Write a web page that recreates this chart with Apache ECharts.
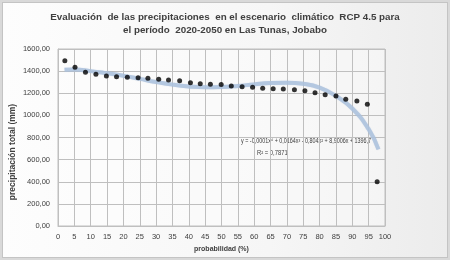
<!DOCTYPE html>
<html><head><meta charset="utf-8">
<script src="https://cdn.jsdelivr.net/npm/echarts@6/dist/echarts.min.js"></script>
<style>
html,body{margin:0;padding:0;width:450px;height:260px;background:#d9d9d9;overflow:hidden}
#frame{position:absolute;left:2px;top:2px;width:444px;height:254px;border:1px solid #c4c4c4;background:linear-gradient(90deg,#fdfdfd 0%,#f6f6f6 60%,#ececec 100%)}
#c{position:absolute;left:-3px;top:-3px;width:450px;height:260px}
</style></head><body>
<div id="frame"><div id="c"></div></div>
<script>
const probX = [2.1, 5.2, 8.4, 11.6, 14.8, 17.9, 21.2, 24.5, 27.5, 30.8, 33.8, 37.2, 40.5, 43.5, 46.6, 49.9, 53.0, 56.3, 59.5, 62.6, 65.8, 68.9, 72.3, 75.5, 78.6, 81.7, 85.0, 88.0, 91.4, 94.6, 97.6];
const precip = [1494, 1435, 1390, 1372, 1356, 1350, 1344, 1341, 1335, 1326, 1320, 1314, 1296, 1287, 1281, 1278, 1266, 1259, 1254, 1245, 1241, 1239, 1232, 1223, 1205, 1187, 1175, 1146, 1130, 1100, 400];
const trendX = [2, 5, 10, 15, 20, 25, 30, 35, 40, 45, 50, 55, 60, 65, 70, 75, 80, 85, 90, 95, 98];
const trendY = [1412, 1415, 1400, 1380, 1358, 1330, 1302, 1278, 1262, 1255, 1257, 1266, 1280, 1292, 1296, 1285, 1250, 1175, 1062, 875, 693];
const xTicks = [0, 5, 10, 15, 20, 25, 30, 35, 40, 45, 50, 55, 60, 65, 70, 75, 80, 85, 90, 95, 100];
const yTicks = [0, 200, 400, 600, 800, 1000, 1200, 1400, 1600];

const chart = echarts.init(document.getElementById('c'), null, {renderer:'canvas'});
const F = 'Liberation Sans, Arial, sans-serif';
chart.setOption({
  animation:false,
  backgroundColor:'transparent',
  title:{
    text:'Evaluación  de las precipitaciones  en el escenario  climático  RCP 4.5 para\nel período  2020-2050 en Las Tunas, Jobabo',
    left:'center', top:6,
    textStyle:{fontFamily:F,fontSize:9.8,fontWeight:'bold',color:'#404040',lineHeight:13}
  },
  grid:{left:58,right:65,top:49,bottom:34,show:true,borderColor:'#bfbfbf',borderWidth:1,backgroundColor:'rgba(255,255,255,0.35)'},
  xAxis:{
    type:'value',min:0,max:100,interval:5,
    axisLine:{show:true,lineStyle:{color:'#bfbfbf'}},
    axisTick:{show:false},
    splitLine:{show:true,lineStyle:{color:'#bfbfbf',width:1}},
    axisLabel:{fontFamily:F,fontSize:7.5,color:'#404040',margin:7,
      formatter:v=>xTicks.includes(v)?String(v):''},
    name:'probabilidad (%)',nameLocation:'middle',nameGap:19,
    nameTextStyle:{fontFamily:F,fontSize:7,fontWeight:'bold',color:'#404040'}
  },
  yAxis:{
    type:'value',min:0,max:1600,interval:200,
    axisLine:{show:true,lineStyle:{color:'#bfbfbf'}},
    axisTick:{show:false},
    splitLine:{show:true,lineStyle:{color:'#bfbfbf',width:1}},
    axisLabel:{fontFamily:F,fontSize:7.5,color:'#404040',margin:8,
      formatter:v=>yTicks.includes(v)?v.toFixed(2).replace('.',','):''}
  },
  graphic:[
    {type:'text',x:13,y:152,rotation:Math.PI/2,
     style:{text:'precipitación total (mm)',font:'bold 8.5px '+F,fill:'#404040',textAlign:'center',textVerticalAlign:'middle'}},
    {type:'text',x:241,y:138,scaleX:0.83,style:{text:'y = -0,0001x⁴ + 0,0164x³ - 0,804x² + 8,9006x + 1396,7',font:'6.5px '+F,fill:'#404040'}},
    {type:'text',x:257,y:150,scaleX:0.9,style:{text:'R² = 0,7871',font:'6.5px '+F,fill:'#404040'}}
  ],
  series:[
    {type:'line',data:trendX.map((x,i)=>[x,trendY[i]]),smooth:0.5,showSymbol:false,symbol:'none',
     lineStyle:{color:'#aec3de',width:4,opacity:0.85,shadowColor:'rgba(120,150,190,0.35)',shadowBlur:1},z:2},
    {type:'scatter',data:probX.map((x,i)=>[x,precip[i]]),symbol:'circle',symbolSize:5,
     itemStyle:{color:'#000000'},z:3}
  ]
});
</script></body></html>
